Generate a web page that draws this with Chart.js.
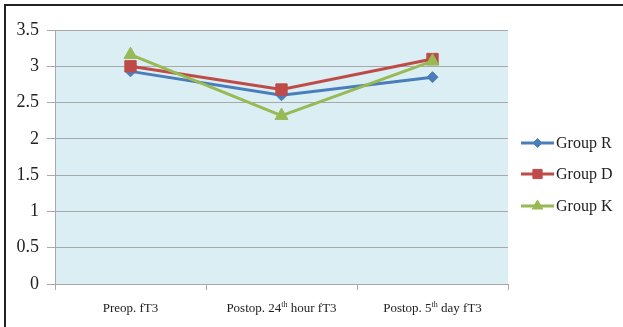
<!DOCTYPE html>
<html>
<head>
<meta charset="utf-8">
<script src="https://cdn.jsdelivr.net/npm/chart.js@4/dist/chart.umd.min.js"></script>
<style>
  html, body { margin: 0; padding: 0; background: #fff; }
  #wrap { position: relative; width: 623px; height: 327px; }
  canvas { display: block; }
</style>
</head>
<body>
<div id="wrap"><canvas id="c" width="623" height="327"></canvas></div>
<script>
// Measurement points (x axis)
const categories = ['Preop. fT3', 'Postop. 24th hour fT3', 'Postop. 5th day fT3'];

// fT3 means per group
const groupR = [2.93, 2.60, 2.85];
const groupD = [3.00, 2.68, 3.10];
const groupK = [3.16, 2.32, 3.07];

const seriesNames = ['Group R', 'Group D', 'Group K'];
const yTicks = [0, 0.5, 1, 1.5, 2, 2.5, 3, 3.5];

const colors = ['#4A7EBB', '#BE4B48', '#98B954'];
const pointStyles = ['rectRot', 'rect', 'triangle'];
const pointRadii = [5.5, 8, 7.5];
const legendRadii = [4.5, 6.5, 6];

const SERIF = '"Liberation Serif", "DejaVu Serif", serif';
const GRID = '#a8a8a8';

const datasets = [groupR, groupD, groupK].map((vals, i) => ({
  label: seriesNames[i],
  data: vals,
  borderColor: colors[i],
  backgroundColor: colors[i],
  borderWidth: 3,
  pointStyle: pointStyles[i],
  pointRadius: pointRadii[i],
  pointHoverRadius: pointRadii[i],
  pointBorderWidth: 1,
  tension: 0,
  order: 3 - i
}));

// Frame, plot background, category labels with superscripts, and legend
const decor = {
  id: 'decor',
  beforeDraw(chart) {
    const { ctx, chartArea: a } = chart;
    ctx.save();
    ctx.fillStyle = '#fff';
    ctx.fillRect(0, 0, chart.width, chart.height);
    ctx.fillStyle = '#DBEEF4';
    ctx.fillRect(a.left, a.top, a.right - a.left, a.bottom - a.top);
    ctx.fillStyle = '#222';
    ctx.fillRect(4, 4, chart.width - 4, 2);
    ctx.fillRect(4, 4, 2, chart.height - 4);
    ctx.restore();
  },
  afterDraw(chart) {
    const { ctx } = chart;
    const xs = chart.scales.x;
    ctx.save();
    ctx.fillStyle = '#222';
    ctx.textBaseline = 'alphabetic';
    const base = 312;
    categories.forEach((lab, i) => {
      const parts = [];
      const m = lab.match(/(\d+)(th)/);
      if (m) {
        const idx = m.index + m[1].length;
        parts.push({ t: lab.slice(0, idx), sup: false });
        parts.push({ t: m[2], sup: true });
        parts.push({ t: lab.slice(idx + m[2].length), sup: false });
      } else {
        parts.push({ t: lab, sup: false });
      }
      const fontN = '13px ' + SERIF;
      const fontS = '8px ' + SERIF;
      let w = 0;
      parts.forEach(p => { ctx.font = p.sup ? fontS : fontN; p.w = ctx.measureText(p.t).width; w += p.w; });
      let x = xs.getPixelForValue(i) - w / 2;
      parts.forEach(p => {
        ctx.font = p.sup ? fontS : fontN;
        ctx.fillText(p.t, x, p.sup ? base - 5 : base);
        x += p.w;
      });
    });

    // legend: line segment with marker, then label
    const drawPoint = (Chart.helpers && Chart.helpers.drawPoint) ? Chart.helpers.drawPoint : null;
    const rowsY = [143, 174, 206];
    chart.data.datasets.forEach((ds, i) => {
      const y = rowsY[i];
      ctx.strokeStyle = ds.borderColor;
      ctx.lineWidth = 3;
      ctx.beginPath();
      ctx.moveTo(521, y);
      ctx.lineTo(554, y);
      ctx.stroke();
      if (drawPoint) {
        ctx.fillStyle = ds.backgroundColor;
        ctx.lineWidth = 1;
        drawPoint(ctx, { pointStyle: ds.pointStyle, radius: legendRadii[i], borderWidth: 1, rotation: 0 }, 537.5, y);
      }
      ctx.fillStyle = '#222';
      ctx.font = '16px ' + SERIF;
      ctx.textBaseline = 'middle';
      ctx.fillText(ds.label, 556, y + 1);
    });
    ctx.restore();
  }
};

new Chart(document.getElementById('c'), {
  type: 'line',
  data: { labels: categories, datasets },
  plugins: [decor],
  options: {
    responsive: false,
    animation: false,
    events: [],
    layout: { padding: { left: 0, top: 30, right: 115, bottom: 0 } },
    plugins: { legend: { display: false }, tooltip: { enabled: false } },
    scales: {
      x: {
        type: 'category',
        offset: true,
        afterFit(s) { s.height = 43; },
        grid: { offset: true, drawOnChartArea: false, drawTicks: true, tickLength: 6, color: GRID, lineWidth: 1 },
        border: { display: true, color: GRID, width: 1 },
        ticks: { color: 'rgba(0,0,0,0)', font: { size: 13, family: SERIF }, maxRotation: 0, autoSkip: false }
      },
      y: {
        min: 0,
        max: 3.5,
        afterFit(s) { s.width = 55; },
        afterBuildTicks(s) { s.ticks = yTicks.map(v => ({ value: v })); },
        grid: { color: GRID, lineWidth: 1, drawTicks: true, tickLength: 8 },
        border: { display: true, color: GRID, width: 1 },
        ticks: {
          color: '#222',
          padding: 8,
          font: { size: 18, family: SERIF },
          callback: v => String(v)
        }
      }
    }
  }
});
</script>
</body>
</html>
